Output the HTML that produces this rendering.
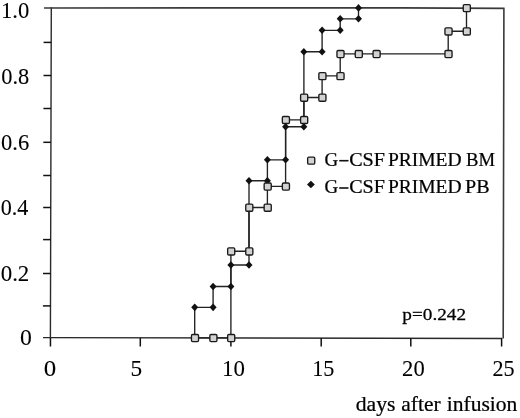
<!DOCTYPE html>
<html><head><meta charset="utf-8"><style>
html,body{margin:0;padding:0;background:#fff;}
body{width:520px;height:418px;overflow:hidden;position:relative;font-family:"Liberation Serif",serif;}
svg{position:absolute;left:0;top:0;filter:grayscale(1);}
</style></head><body>
<svg width="520" height="418" viewBox="0 0 520 418">
<path d="M51.3,7.2 L50.4,338.2 M43,337.6 L502,338.5" stroke="#2a2a2a" stroke-width="1.4" fill="none"/>
<path d="M44,8.0 L200,7.9 L400,7.9 L504.6,8.4 M503.9,8.4 L503.2,338.5" stroke="#3a3a3a" stroke-width="1.6" fill="none"/>
<line x1="43.60" y1="42.4" x2="51.20" y2="42.4" stroke="#111" stroke-width="1.5"/>
<line x1="43.51" y1="75.5" x2="51.11" y2="75.5" stroke="#111" stroke-width="1.5"/>
<line x1="43.42" y1="108.5" x2="51.02" y2="108.5" stroke="#111" stroke-width="1.5"/>
<line x1="43.33" y1="142.3" x2="50.93" y2="142.3" stroke="#111" stroke-width="1.5"/>
<line x1="43.24" y1="175.5" x2="50.84" y2="175.5" stroke="#111" stroke-width="1.5"/>
<line x1="43.16" y1="207.5" x2="50.76" y2="207.5" stroke="#111" stroke-width="1.5"/>
<line x1="43.07" y1="239.6" x2="50.67" y2="239.6" stroke="#111" stroke-width="1.5"/>
<line x1="42.98" y1="273.5" x2="50.58" y2="273.5" stroke="#111" stroke-width="1.5"/>
<line x1="42.89" y1="305.9" x2="50.49" y2="305.9" stroke="#111" stroke-width="1.5"/>
<line x1="50.45" y1="338" x2="50.45" y2="346.5" stroke="#111" stroke-width="1.5"/>
<line x1="140.3" y1="338" x2="140.3" y2="346.5" stroke="#111" stroke-width="1.5"/>
<line x1="230.9" y1="338" x2="230.9" y2="346.5" stroke="#111" stroke-width="1.5"/>
<line x1="321.2" y1="338" x2="321.2" y2="346.5" stroke="#111" stroke-width="1.5"/>
<line x1="410.8" y1="338" x2="410.8" y2="346.5" stroke="#111" stroke-width="1.5"/>
<line x1="501.6" y1="338" x2="501.6" y2="346.5" stroke="#111" stroke-width="1.5"/>
<polyline points="194.7,337.8 194.7,307.4 213.1,307.4 213.1,286.5 230.9,286.5 230.9,265.0 249.0,265.0 249.0,180.7 267.4,180.7 267.4,159.8 285.6,159.8 285.6,126.7 303.9,126.7 303.9,51.7 322.1,51.7 322.1,30.3 340.2,30.3 340.2,18.8 358.5,18.8 358.5,7.9" stroke="#222" stroke-width="1.35" fill="none"/>
<polyline points="194.7,337.8 213.1,337.8 230.9,337.8 230.9,251.2 249.0,251.2 249.0,207.5 267.4,207.5 267.4,186.3 285.6,186.3 285.6,119.8 303.9,119.8 303.9,97.5 322.1,97.5 322.1,75.9 340.2,75.9 340.2,53.8 358.5,53.8 376.3,53.8 448.2,53.8 448.2,31.2 466.5,31.2 466.5,7.9" stroke="#222" stroke-width="1.35" fill="none"/>
<path d="M194.70,303.55 L198.20,307.35 L194.70,311.15 L191.20,307.35Z" fill="#111"/>
<path d="M213.10,303.55 L216.60,307.35 L213.10,311.15 L209.60,307.35Z" fill="#111"/>
<path d="M213.10,282.70 L216.60,286.50 L213.10,290.30 L209.60,286.50Z" fill="#111"/>
<path d="M230.90,282.70 L234.40,286.50 L230.90,290.30 L227.40,286.50Z" fill="#111"/>
<path d="M230.90,261.20 L234.40,265.00 L230.90,268.80 L227.40,265.00Z" fill="#111"/>
<path d="M249.00,261.20 L252.50,265.00 L249.00,268.80 L245.50,265.00Z" fill="#111"/>
<path d="M249.00,176.90 L252.50,180.70 L249.00,184.50 L245.50,180.70Z" fill="#111"/>
<path d="M267.40,176.90 L270.90,180.70 L267.40,184.50 L263.90,180.70Z" fill="#111"/>
<path d="M267.40,156.00 L270.90,159.80 L267.40,163.60 L263.90,159.80Z" fill="#111"/>
<path d="M285.60,156.00 L289.10,159.80 L285.60,163.60 L282.10,159.80Z" fill="#111"/>
<path d="M285.60,122.90 L289.10,126.70 L285.60,130.50 L282.10,126.70Z" fill="#111"/>
<path d="M303.85,122.90 L307.35,126.70 L303.85,130.50 L300.35,126.70Z" fill="#111"/>
<path d="M303.85,47.90 L307.35,51.70 L303.85,55.50 L300.35,51.70Z" fill="#111"/>
<path d="M322.10,47.90 L325.60,51.70 L322.10,55.50 L318.60,51.70Z" fill="#111"/>
<path d="M322.10,26.50 L325.60,30.30 L322.10,34.10 L318.60,30.30Z" fill="#111"/>
<path d="M340.20,26.50 L343.70,30.30 L340.20,34.10 L336.70,30.30Z" fill="#111"/>
<path d="M340.20,14.95 L343.70,18.75 L340.20,22.55 L336.70,18.75Z" fill="#111"/>
<path d="M358.50,14.95 L362.00,18.75 L358.50,22.55 L355.00,18.75Z" fill="#111"/>
<path d="M358.50,4.10 L362.00,7.90 L358.50,11.70 L355.00,7.90Z" fill="#111"/>
<rect x="191.45" y="334.45" width="7.1" height="7.1" rx="1.2" fill="#d2d2d2" stroke="#1a1a1a" stroke-width="1.35"/>
<rect x="209.85" y="334.45" width="7.1" height="7.1" rx="1.2" fill="#d2d2d2" stroke="#1a1a1a" stroke-width="1.35"/>
<rect x="227.65" y="334.45" width="7.1" height="7.1" rx="1.2" fill="#d2d2d2" stroke="#1a1a1a" stroke-width="1.35"/>
<rect x="227.65" y="247.85" width="7.1" height="7.1" rx="1.2" fill="#d2d2d2" stroke="#1a1a1a" stroke-width="1.35"/>
<rect x="245.75" y="247.85" width="7.1" height="7.1" rx="1.2" fill="#d2d2d2" stroke="#1a1a1a" stroke-width="1.35"/>
<rect x="245.75" y="204.15" width="7.1" height="7.1" rx="1.2" fill="#d2d2d2" stroke="#1a1a1a" stroke-width="1.35"/>
<rect x="264.15" y="204.15" width="7.1" height="7.1" rx="1.2" fill="#d2d2d2" stroke="#1a1a1a" stroke-width="1.35"/>
<rect x="264.15" y="182.95" width="7.1" height="7.1" rx="1.2" fill="#d2d2d2" stroke="#1a1a1a" stroke-width="1.35"/>
<rect x="282.35" y="182.95" width="7.1" height="7.1" rx="1.2" fill="#d2d2d2" stroke="#1a1a1a" stroke-width="1.35"/>
<rect x="282.35" y="116.45" width="7.1" height="7.1" rx="1.2" fill="#d2d2d2" stroke="#1a1a1a" stroke-width="1.35"/>
<rect x="300.60" y="116.45" width="7.1" height="7.1" rx="1.2" fill="#d2d2d2" stroke="#1a1a1a" stroke-width="1.35"/>
<rect x="300.60" y="94.15" width="7.1" height="7.1" rx="1.2" fill="#d2d2d2" stroke="#1a1a1a" stroke-width="1.35"/>
<rect x="318.85" y="94.15" width="7.1" height="7.1" rx="1.2" fill="#d2d2d2" stroke="#1a1a1a" stroke-width="1.35"/>
<rect x="318.85" y="72.55" width="7.1" height="7.1" rx="1.2" fill="#d2d2d2" stroke="#1a1a1a" stroke-width="1.35"/>
<rect x="336.95" y="72.55" width="7.1" height="7.1" rx="1.2" fill="#d2d2d2" stroke="#1a1a1a" stroke-width="1.35"/>
<rect x="336.95" y="50.45" width="7.1" height="7.1" rx="1.2" fill="#d2d2d2" stroke="#1a1a1a" stroke-width="1.35"/>
<rect x="355.25" y="50.45" width="7.1" height="7.1" rx="1.2" fill="#d2d2d2" stroke="#1a1a1a" stroke-width="1.35"/>
<rect x="373.05" y="50.45" width="7.1" height="7.1" rx="1.2" fill="#d2d2d2" stroke="#1a1a1a" stroke-width="1.35"/>
<rect x="444.95" y="50.45" width="7.1" height="7.1" rx="1.2" fill="#d2d2d2" stroke="#1a1a1a" stroke-width="1.35"/>
<rect x="444.95" y="27.85" width="7.1" height="7.1" rx="1.2" fill="#d2d2d2" stroke="#1a1a1a" stroke-width="1.35"/>
<rect x="463.25" y="27.85" width="7.1" height="7.1" rx="1.2" fill="#d2d2d2" stroke="#1a1a1a" stroke-width="1.35"/>
<rect x="463.25" y="4.55" width="7.1" height="7.1" rx="1.2" fill="#d2d2d2" stroke="#1a1a1a" stroke-width="1.35"/>
<rect x="307.65" y="157.05" width="7.1" height="7.1" rx="1.2" fill="#d2d2d2" stroke="#1a1a1a" stroke-width="1.35"/>
<path d="M310.9,180.8 L314.8,184.5 L310.9,188.2 L307.0,184.5Z" fill="#111"/>
<text transform="matrix(0.9846,0,0,1.0191,1.03,17.99)" font-size="23" font-family="Liberation Serif" fill="#000" stroke="#000" stroke-width="0.1">1.0</text>
<text transform="matrix(0.9741,0,0,1.0191,1.32,83.89)" font-size="23" font-family="Liberation Serif" fill="#000" stroke="#000" stroke-width="0.1">0.8</text>
<text transform="matrix(0.9779,0,0,1.0446,1.02,149.79)" font-size="23" font-family="Liberation Serif" fill="#000" stroke="#000" stroke-width="0.1">0.6</text>
<text transform="matrix(0.9636,0,0,0.9809,0.73,214.91)" font-size="23" font-family="Liberation Serif" fill="#000" stroke="#000" stroke-width="0.1">0.4</text>
<text transform="matrix(0.9962,0,0,1.0191,0.70,281.09)" font-size="23" font-family="Liberation Serif" fill="#000" stroke="#000" stroke-width="0.1">0.2</text>
<text transform="matrix(1.0309,0,0,0.9872,19.97,345.30)" font-size="23" font-family="Liberation Serif" fill="#000" stroke="#000" stroke-width="0.1">0</text>
<text transform="matrix(1.0825,0,0,1.0192,43.63,376.20)" font-size="23" font-family="Liberation Serif" fill="#000" stroke="#000" stroke-width="0.1">0</text>
<text transform="matrix(1.0108,0,0,1.0195,130.49,375.80)" font-size="23" font-family="Liberation Serif" fill="#000" stroke="#000" stroke-width="0.1">5</text>
<text transform="matrix(0.9950,0,0,0.9936,222.01,375.80)" font-size="23" font-family="Liberation Serif" fill="#000" stroke="#000" stroke-width="0.1">10</text>
<text transform="matrix(0.9602,0,0,0.9870,312.28,375.60)" font-size="23" font-family="Liberation Serif" fill="#000" stroke="#000" stroke-width="0.1">15</text>
<text transform="matrix(0.9810,0,0,1.0256,402.12,376.29)" font-size="23" font-family="Liberation Serif" fill="#000" stroke="#000" stroke-width="0.1">20</text>
<text transform="matrix(0.9621,0,0,1.0323,492.54,376.29)" font-size="23" font-family="Liberation Serif" fill="#000" stroke="#000" stroke-width="0.1">25</text>
<text transform="matrix(1.1307,0,0,1.0268,402.36,320.10)" font-size="17" font-family="Liberation Serif" fill="#000" stroke="#000" stroke-width="0.25">p=0.242</text>
<text transform="matrix(0.9462,0,0,0.9924,324.54,165.90)" font-size="20" font-family="Liberation Serif" fill="#000" stroke="#000" stroke-width="0.25">G</text>
<text transform="matrix(1.0059,0,0,0.9924,349.20,165.90)" font-size="20" font-family="Liberation Serif" fill="#000" stroke="#000" stroke-width="0.25">CSF</text>
<text transform="matrix(0.9744,0,0,0.9924,387.92,165.90)" font-size="20" font-family="Liberation Serif" fill="#000" stroke="#000" stroke-width="0.25">PRIMED</text>
<text transform="matrix(0.9331,0,0,0.9924,465.94,165.90)" font-size="20" font-family="Liberation Serif" fill="#000" stroke="#000" stroke-width="0.25">BM</text>
<rect x="339.2" y="159.9" width="9.3" height="1.6" fill="#111"/>
<text transform="matrix(0.9462,0,0,0.9924,324.54,193.20)" font-size="20" font-family="Liberation Serif" fill="#000" stroke="#000" stroke-width="0.25">G</text>
<text transform="matrix(1.0059,0,0,0.9924,349.20,193.20)" font-size="20" font-family="Liberation Serif" fill="#000" stroke="#000" stroke-width="0.25">CSF</text>
<text transform="matrix(0.9744,0,0,0.9924,387.92,193.20)" font-size="20" font-family="Liberation Serif" fill="#000" stroke="#000" stroke-width="0.25">PRIMED</text>
<text transform="matrix(1.0044,0,0,0.9924,465.00,193.20)" font-size="20" font-family="Liberation Serif" fill="#000" stroke="#000" stroke-width="0.25">PB</text>
<rect x="339.2" y="187.2" width="9.3" height="1.6" fill="#111"/>
<text transform="matrix(0.9871,0,0,0.9800,355.71,410.90)" font-size="22" font-family="Liberation Serif" fill="#000" stroke="#000" stroke-width="0.25">days</text>
<text transform="matrix(0.9771,0,0,0.9800,401.32,410.90)" font-size="22" font-family="Liberation Serif" fill="#000" stroke="#000" stroke-width="0.25">after</text>
<text transform="matrix(0.9804,0,0,0.9800,446.71,410.90)" font-size="22" font-family="Liberation Serif" fill="#000" stroke="#000" stroke-width="0.25">infusion</text>
</svg>
</body></html>
